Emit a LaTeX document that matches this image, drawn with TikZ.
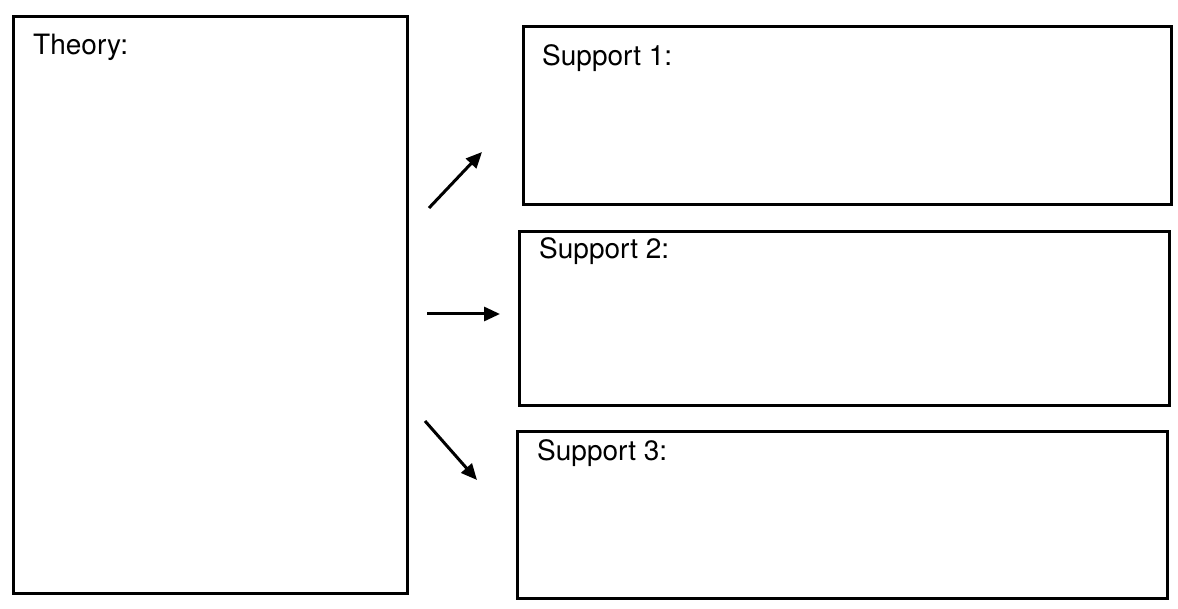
\documentclass[tikz,border=0pt]{standalone}
\usepackage{fontspec}
\setsansfont{TeX Gyre Heros}
\usetikzlibrary{arrows.meta, positioning}

\begin{document}
\begin{tikzpicture}[x=1pt, y=-1pt,
    every node/.style={font=\sffamily},
    sheet/.style={draw=black, line width=2.8pt, inner sep=0pt, anchor=north west},
    head/.style={font=\sffamily\fontsize{28}{33}\selectfont, anchor=base west, inner sep=0pt},
    link/.style={black, line width=3pt, -{Triangle[length=16pt, width=14pt]}},
]
\useasboundingbox (0,0) rectangle (1178,609);

% ---------------- the theory, on the left
\node[sheet, minimum width=394pt, minimum height=577pt] (theory) at (12,15) {};
\node[head] (theorylab) at (33,55) {Theory:};

% ---------------- the three supports
\node[sheet, minimum width=648pt, minimum height=178pt] (sup1) at (522,25) {};
\node[head] (sup1lab) at (542,66) {Support 1:};
\node[sheet, minimum width=650pt, minimum height=174pt] (sup2) at (518,230) {};
\node[head] (sup2lab) at (539,259) {Support 2:};
\node[sheet, minimum width=650pt, minimum height=167pt] (sup3) at (516,430) {};
\node[head] (sup3lab) at (537,460) {Support 3:};

% ---------------- arrows in the gap
\coordinate (from1) at (429,208);
\coordinate (to1) at (482,152);
\coordinate (from2) at (427,314);
\coordinate (to2) at (500,314);
\coordinate (from3) at (425,421);
\coordinate (to3) at (477,480);
\foreach \i in {1,2,3}{
    \draw[link] (from\i) -- (to\i);
}
\end{tikzpicture}
\end{document}
